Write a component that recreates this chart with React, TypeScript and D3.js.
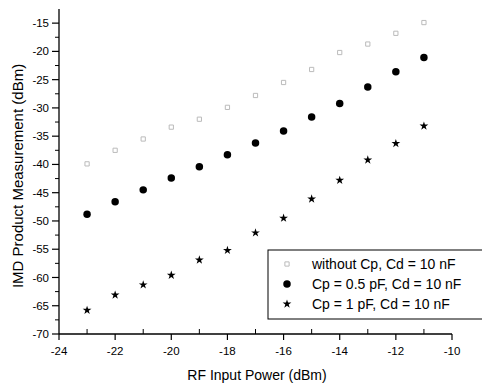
import React from "react";
import * as d3 from "d3";

const xValues = [-23, -22, -21, -20, -19, -18, -17, -16, -15, -14, -13, -12, -11];
const withoutCp = [-39.9, -37.5, -35.5, -33.4, -32.0, -29.9, -27.8, -25.5, -23.2, -20.2, -18.7, -16.8, -14.9];
const cp05 = [-48.8, -46.6, -44.5, -42.4, -40.4, -38.3, -36.2, -34.1, -31.6, -29.2, -26.3, -23.6, -21.1];
const cp1 = [-65.8, -63.1, -61.3, -59.6, -56.9, -55.2, -52.1, -49.5, -46.1, -42.8, -39.2, -36.3, -33.2];
const xTicks = [-24, -22, -20, -18, -16, -14, -12, -10];
const xMinor = [-23, -21, -19, -17, -15, -13, -11];
const yTicks = [-15, -20, -25, -30, -35, -40, -45, -50, -55, -60, -65, -70];
const yMinor = [-17.5, -22.5, -27.5, -32.5, -37.5, -42.5, -47.5, -52.5, -57.5, -62.5, -67.5];
const legendLabels = ["without Cp, Cd = 10 nF", "Cp = 0.5 pF, Cd = 10 nF", "Cp = 1 pF, Cd = 10 nF"];

const W = 482;
const H = 387;
const font = "Liberation Sans, Arial, sans-serif";

export default function App() {
  const x = d3.scaleLinear().domain([-24, -10]).range([59, 452]);
  const y = d3.scaleLinear().domain([-70, -12.5]).range([334, 9]);
  const star = d3.symbol().type(d3.symbolStar).size(24)() as string;
  const circle = d3.symbol().type(d3.symbolCircle).size(44)() as string;
  const square = d3.symbol().type(d3.symbolSquare).size(18)() as string;

  const marker = (k: number, cx: number, cy: number, key: string) => {
    if (k === 0)
      return <path key={key} d={square} transform={`translate(${cx},${cy})`} fill="none" stroke="#bbb" strokeWidth={1} />;
    if (k === 1)
      return <path key={key} d={circle} transform={`translate(${cx},${cy})`} fill="#000" />;
    return <path key={key} d={star} transform={`translate(${cx},${cy})`} fill="#000" />;
  };

  const series = [withoutCp, cp05, cp1];

  return (
    <svg width={W} height={H} style={{ position: "absolute", left: 0, top: 0, background: "#fff" }} fontFamily={font}>
      <rect x={0} y={0} width={W} height={H} fill="#fff" />
      {/* y axis */}
      <line x1={59} x2={59} y1={y(-12.5)} y2={y(-70)} stroke="#000" strokeWidth={1.3} />
      {yTicks.map((t) => (
        <g key={"yt" + t}>
          <line x1={52} x2={59} y1={y(t)} y2={y(t)} stroke="#000" strokeWidth={1.2} />
          <text x={49} y={y(t)} dy="0.35em" textAnchor="end" fontSize={11.5}>{t}</text>
        </g>
      ))}
      {yMinor.map((t) => (
        <line key={"ym" + t} x1={55} x2={59} y1={y(t)} y2={y(t)} stroke="#000" strokeWidth={1} />
      ))}
      {/* x axis */}
      <line x1={x(-24)} x2={x(-10)} y1={334} y2={334} stroke="#000" strokeWidth={1.3} />
      {xTicks.map((t) => (
        <g key={"xt" + t}>
          <line x1={x(t)} x2={x(t)} y1={334} y2={340} stroke="#000" strokeWidth={1.2} />
          <text x={x(t)} y={355} textAnchor="middle" fontSize={11.5}>{t}</text>
        </g>
      ))}
      {xMinor.map((t) => (
        <line key={"xm" + t} x1={x(t)} x2={x(t)} y1={334} y2={329} stroke="#000" strokeWidth={1} />
      ))}
      {/* axis titles */}
      <text x={257} y={380} textAnchor="middle" fontSize={14}>RF Input Power (dBm)</text>
      <text transform="translate(23,176) rotate(-90)" textAnchor="middle" fontSize={15}>IMD Product Measurement (dBm)</text>
      {/* data */}
      {series.map((s, k) => s.map((v, i) => marker(k, x(xValues[i]), y(v), `m${k}-${i}`)))}
      {/* legend */}
      <rect x={268} y={250} width={230} height={69} fill="#fff" stroke="#000" strokeWidth={1} />
      {legendLabels.map((l, i) => (
        <g key={"lg" + i}>
          {marker(i, 287, 264 + i * 20, "lm" + i)}
          <text x={312} y={264 + i * 20} dy="0.35em" fontSize={14}>{l}</text>
        </g>
      ))}
    </svg>
  );
}
